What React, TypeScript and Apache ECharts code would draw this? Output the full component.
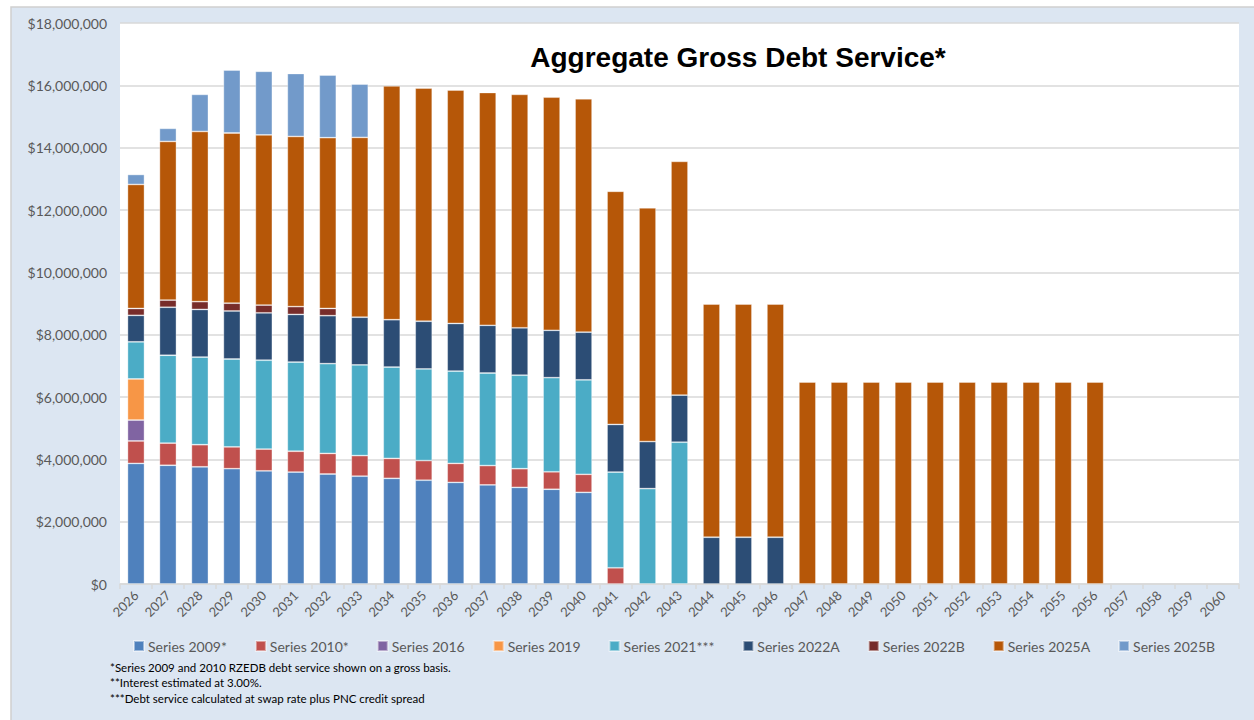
import React, { useEffect, useRef } from "react";
import * as echarts from "echarts";

const years = [
  "2026", "2027", "2028", "2029", "2030", "2031", "2032", "2033", "2034", "2035",
  "2036", "2037", "2038", "2039", "2040", "2041", "2042", "2043", "2044", "2045",
  "2046", "2047", "2048", "2049", "2050", "2051", "2052", "2053", "2054", "2055",
  "2056", "2057", "2058", "2059", "2060",
];

// values in millions of dollars, first entry = 2026
const series2009 = [3.87, 3.81, 3.76, 3.70, 3.63, 3.59, 3.53, 3.46, 3.39, 3.33, 3.26, 3.18, 3.10, 3.04, 2.94];
const series2010 = [0.72, 0.71, 0.71, 0.70, 0.70, 0.67, 0.66, 0.66, 0.64, 0.63, 0.61, 0.62, 0.60, 0.56, 0.58, 0.52];
const series2016 = [0.67];
const series2019 = [1.32];
const series2021 = [1.19, 2.82, 2.81, 2.82, 2.85, 2.86, 2.88, 2.91, 2.93, 2.94, 2.96, 2.97, 3.00, 3.02, 3.03, 3.07, 3.06, 4.55];
const series2022A = [0.85, 1.54, 1.53, 1.54, 1.52, 1.53, 1.54, 1.53, 1.52, 1.53, 1.53, 1.53, 1.52, 1.52, 1.53, 1.53, 1.51, 1.51, 1.50, 1.50, 1.50];
const series2022B = [0.22, 0.23, 0.25, 0.25, 0.25, 0.25, 0.23];
const series2025A = [
  3.98, 5.09, 5.46, 5.46, 5.46, 5.46, 5.48, 5.77, 7.50, 7.48,
  7.49, 7.47, 7.49, 7.48, 7.49, 7.48, 7.50, 7.50, 7.48, 7.48,
  7.48, 6.48, 6.48, 6.48, 6.48, 6.48, 6.48, 6.48, 6.48, 6.48,
  6.48,
];
const series2025B = [0.32, 0.42, 1.19, 2.02, 2.04, 2.02, 2.01, 1.71];

const seriesNames = [
  "Series 2009*", "Series 2010*", "Series 2016", "Series 2019", "Series 2021***",
  "Series 2022A", "Series 2022B", "Series 2025A", "Series 2025B",
];
const seriesValues = [
  series2009, series2010, series2016, series2019, series2021,
  series2022A, series2022B, series2025A, series2025B,
];
const seriesColors = [
  "#4f81bd", "#c0504d", "#8064a2", "#f79646", "#4bacc6",
  "#2c4d75", "#772c2a", "#b65708", "#729aca",
];

const footnotes = [
  "*Series 2009 and 2010 RZEDB debt service shown on a gross basis.",
  "**Interest estimated at 3.00%.",
  "***Debt service calculated at swap rate plus PNC credit spread",
];

const FONT = "Lato, 'Open Sans', sans-serif";

function toDollars(arr: number[]) {
  return years.map((_, i) => (i < arr.length ? Math.round(arr[i] * 1e6) : null));
}

export default function App() {
  const ref = useRef<HTMLDivElement>(null);

  useEffect(() => {
    const chart = echarts.init(ref.current!, null, { renderer: "svg" });
    const option: any = {
      animation: false,
      backgroundColor: "#ffffff",
      textStyle: { fontFamily: FONT },
      grid: {
        left: 120,
        right: 15,
        top: 23,
        bottom: 136,
        show: true,
        backgroundColor: "#ffffff",
        borderWidth: 0,
      },
      legend: {
        left: 128,
        top: 634,
        icon: "rect",
        itemWidth: 10,
        itemHeight: 10,
        itemGap: 28,
        selectedMode: false,
        textStyle: { color: "#595959", fontSize: 14, fontFamily: FONT, padding: [0, 0, 0, -1] },
        data: seriesNames,
      },
      xAxis: {
        type: "category",
        data: years,
        axisLine: { lineStyle: { color: "#d9d9d9", width: 1.5 } },
        axisTick: { show: true, length: 5, lineStyle: { color: "#d9d9d9", width: 1.5 } },
        axisLabel: {
          rotate: 45,
          interval: 0,
          margin: 9,
          color: "#595959",
          fontSize: 13,
          fontFamily: FONT,
        },
      },
      yAxis: {
        type: "value",
        min: 0,
        max: 18000000,
        interval: 2000000,
        axisLine: { show: false },
        axisTick: { show: false },
        splitLine: { lineStyle: { color: "#d9d9d9", width: 1.5 } },
        axisLabel: {
          margin: 13,
          color: "#595959",
          fontSize: 14,
          fontFamily: FONT,
          formatter: (v: number) => "$" + v.toLocaleString("en-US"),
        },
      },
      graphic: [
        {
          type: "rect",
          z: -10,
          silent: true,
          shape: { x: 11, y: 7, width: 1260, height: 720 },
          style: { fill: "#dce6f2", stroke: "#d0d0d0", lineWidth: 1.5 },
        },
        {
          type: "text",
          x: 738,
          y: 57,
          style: {
            text: "Aggregate Gross Debt Service*",
            font: "bold 28px 'Liberation Sans', Arial, sans-serif",
            fill: "#000000",
            textAlign: "center",
            textVerticalAlign: "middle",
          },
        },
        ...footnotes.map((t, i) => ({
          type: "text",
          x: 110,
          y: 667 + i * 15.5,
          style: {
            text: t,
            font: `11.5px ${FONT}`,
            fill: "#000000",
            textAlign: "left",
            textVerticalAlign: "middle",
          },
        })),
      ],
      series: seriesNames.map((name, k) => ({
        name,
        type: "bar",
        stack: "total",
        barWidth: 17,
        data: toDollars(seriesValues[k]),
        itemStyle: {
          color: seriesColors[k],
          borderColor: "rgba(255,255,255,0.45)",
          borderWidth: 0.8,
        },
      })),
    };
    chart.setOption(option);
    return () => chart.dispose();
  }, []);

  return (
    <div
      ref={ref}
      style={{ position: "fixed", left: 0, top: 0, width: 1254, height: 720 }}
    />
  );
}
